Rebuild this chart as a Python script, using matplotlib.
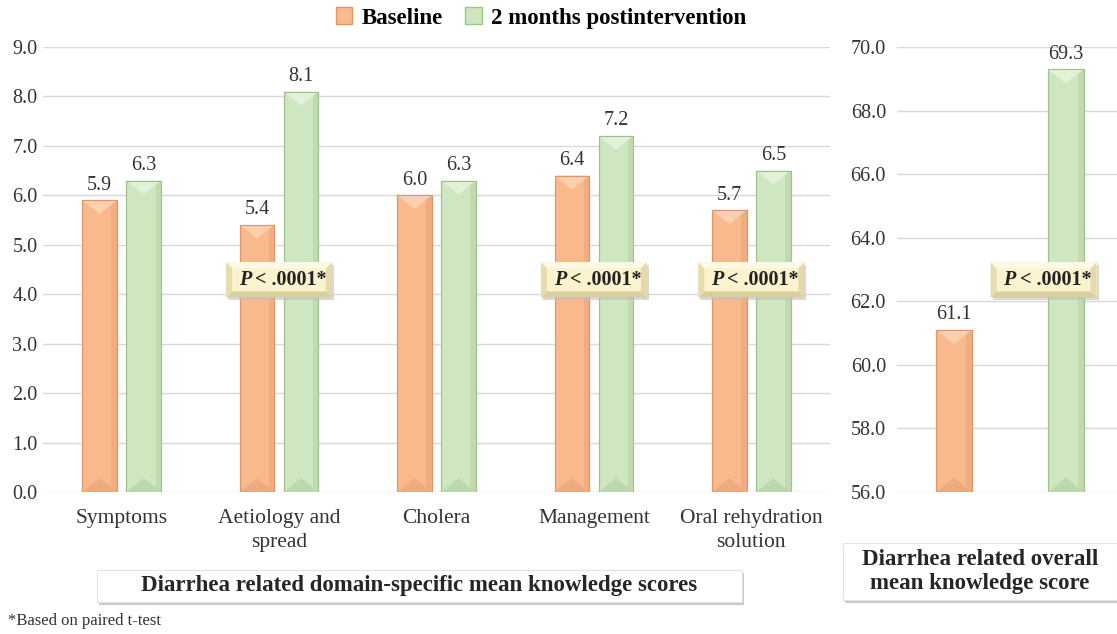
import numpy as np
import matplotlib
matplotlib.use("Agg")
import matplotlib.pyplot as plt
from matplotlib.patches import Polygon, Rectangle, Patch
from matplotlib.transforms import IdentityTransform

plt.rcParams["font.family"] = ["Liberation Serif", "DejaVu Serif"]

# dominios (panel izquierdo)
dominios = ["Symptoms", "Aetiology and\nspread", "Cholera", "Management",
            "Oral rehydration\nsolution"]
basal = [5.9, 5.4, 6.0, 6.4, 5.7]
post = [6.3, 8.1, 6.3, 7.2, 6.5]
sig_dom = [False, True, False, True, True]   # P < .0001 en pareado

# puntaje global (panel derecho)
basal_tot = 61.1
post_tot = 69.3

series = ["Baseline", "2 months postintervention"]
ticks_izq = np.arange(0, 9.01, 1.0)
ticks_der = np.arange(56, 70.01, 2.0)

NAR = dict(face="#F9B98C", edge="#DD966A", top="#FCCFAE", bot="#F0AA7E", side="#F1AD82")
VER = dict(face="#CFE7C1", edge="#9FC28D", top="#E2F1D8", bot="#BCD9AB", side="#C0DBB0")

W, H = 1117, 634
fig = plt.figure(figsize=(W / 100, H / 100), dpi=100)
fig.patch.set_facecolor("white")

ax1 = fig.add_axes([43 / W, (H - 492) / H, 787 / W, 445 / H])
ax2 = fig.add_axes([897 / W, (H - 492) / H, 226 / W, 445 / H])

for ax in (ax1, ax2):
    for s in ax.spines.values():
        s.set_visible(False)
    ax.tick_params(length=0, labelsize=14.5, colors="#333333")
    ax.grid(axis="y", color="#D9D9D9", lw=1)
    ax.set_axisbelow(True)

x = np.arange(len(dominios))
bw = 0.22
b1 = ax1.bar(x - 0.14, basal, bw, color=NAR["face"], edgecolor=NAR["edge"], lw=0.8)
b2 = ax1.bar(x + 0.14, post, bw, color=VER["face"], edgecolor=VER["edge"], lw=0.8)
ax1.set_xlim(-0.5, 4.5)
ax1.set_ylim(0, 9)
ax1.set_yticks(ticks_izq)
ax1.set_yticklabels([f"{t:.1f}" for t in ticks_izq])
ax1.set_xticks(x)
ax1.set_xticklabels(dominios, fontsize=15.5, linespacing=1.35)
ax1.tick_params(axis="x", pad=12)
ax1.tick_params(axis="y", pad=4)

bw2 = 0.32
b3 = ax2.bar([0], [basal_tot - 56], bw2, bottom=56, color=NAR["face"], edgecolor=NAR["edge"], lw=0.8)
b4 = ax2.bar([1], [post_tot - 56], bw2, bottom=56, color=VER["face"], edgecolor=VER["edge"], lw=0.8)
ax2.set_xlim(-0.51, 1.51)
ax2.set_ylim(56, 70)
ax2.set_yticks(ticks_der)
ax2.set_yticklabels([f"{t:.1f}" for t in ticks_der])
ax2.set_xticks([])
ax2.tick_params(axis="y", pad=8)

# etiquetas de valor
for ax, bars, vals in [(ax1, b1, basal), (ax1, b2, post),
                       (ax2, b3, [basal_tot]), (ax2, b4, [post_tot])]:
    for r, v in zip(bars, vals):
        ax.annotate(f"{v:.1f}", (r.get_x() + r.get_width() / 2, r.get_y() + r.get_height()),
                    xytext=(0, 4), textcoords="offset points", ha="center", va="bottom",
                    fontsize=14.5, color="#333333")

fig.canvas.draw()


def bisel(ax, bars, c):
    # sombreado tipo relieve sobre cada barra, en pixeles
    for r in bars:
        (x0, y0), (x1, y1) = ax.transData.transform(
            [(r.get_x(), r.get_y()), (r.get_x() + r.get_width(), r.get_y() + r.get_height())])
        w = x1 - x0
        d = min(0.4 * w, (y1 - y0) / 2)
        xc = (x0 + x1) / 2
        s = 0.16 * w
        polys = [
            ([(x1 - s, y0), (x1, y0), (x1, y1), (x1 - s, y1)], c["side"]),
            ([(x0, y1), (x1, y1), (xc, y1 - d)], c["top"]),
            ([(x0, y0), (x1, y0), (xc, y0 + d)], c["bot"]),
        ]
        for pts, col in polys:
            ax.add_patch(Polygon(pts, closed=True, fc=col, ec="none",
                                 transform=IdentityTransform(), zorder=2.5))
        ax.add_patch(Rectangle((x0, y0), w, y1 - y0, fc="none", ec=c["edge"], lw=0.8,
                               transform=IdentityTransform(), zorder=2.6))


bisel(ax1, b1, NAR)
bisel(ax1, b2, VER)
bisel(ax2, b3, NAR)
bisel(ax2, b4, VER)


def caja_p(ax, xd, yd, bw_px=106, bh_px=35):
    cx, cy = ax.transData.transform((xd, yd))
    x0, x1 = cx - bw_px / 2, cx + bw_px / 2
    y0, y1 = cy - bh_px / 2, cy + bh_px / 2
    e = 6
    T = IdentityTransform()
    # sombra
    ax.add_patch(Rectangle((x0 + 2, y0 - 3), bw_px, bh_px, fc="#BFBFBF", ec="none",
                           alpha=0.6, transform=T, zorder=4))
    ax.add_patch(Rectangle((x0, y0), bw_px, bh_px, fc="#FBF3CE", ec="none", transform=T, zorder=4.1))
    borde = [
        ([(x0, y1), (x1, y1), (x1 - e, y1 - e), (x0 + e, y1 - e)], "#FDF9E6"),
        ([(x0, y0), (x1, y0), (x1 - e, y0 + e), (x0 + e, y0 + e)], "#D9CE9E"),
        ([(x0, y0), (x0, y1), (x0 + e, y1 - e), (x0 + e, y0 + e)], "#E6DCAF"),
        ([(x1, y0), (x1, y1), (x1 - e, y1 - e), (x1 - e, y0 + e)], "#E3D9AA"),
    ]
    for pts, col in borde:
        ax.add_patch(Polygon(pts, closed=True, fc=col, ec="none", transform=T, zorder=4.2))
    ax.annotate("P", (xd, yd), xytext=(-28, 0), textcoords="offset pixels", ha="right",
                va="center", fontsize=14.5, fontweight="bold", style="italic",
                color="#222222", zorder=5)
    ax.annotate(" < .0001*", (xd, yd), xytext=(-29, 0), textcoords="offset pixels", ha="left",
                va="center", fontsize=14.5, fontweight="bold", color="#222222", zorder=5)


for i, s in enumerate(sig_dom):
    if s:
        caja_p(ax1, x[i], 4.29)
caja_p(ax2, 0.80, 62.67)


def caja_titulo(x0, ytop, w, h, texto):
    T = IdentityTransform()
    y0 = H - ytop - h
    fig.patches.append(Rectangle((x0 + 2, y0 - 3), w, h, fc="#C8C8C8", ec="none",
                                 transform=T, figure=fig, zorder=1))
    fig.patches.append(Rectangle((x0, y0), w, h, fc="white", ec="#E3E3E3", lw=0.8,
                                 transform=T, figure=fig, zorder=2))
    fig.text((x0 + w / 2) / W, (y0 + h / 2) / H, texto, ha="center", va="center",
             fontsize=16.5, fontweight="bold", color="#262626", linespacing=1.2, zorder=3)


caja_titulo(97, 570, 645, 32, "Diarrhea related domain-specific mean knowledge scores")
caja_titulo(843, 543, 274, 57, "Diarrhea related overall\nmean knowledge score")

fig.text(8 / W, (H - 621) / H, "*Based on paired t-test", ha="left", va="center",
         fontsize=12, color="#333333")

manijas = [Patch(fc=NAR["face"], ec=NAR["edge"]), Patch(fc=VER["face"], ec=VER["edge"])]
fig.legend(manijas, series, loc="center", bbox_to_anchor=(541 / W, (H - 18) / H), ncol=2,
           frameon=False, prop=dict(weight="bold", size=16.5), handlelength=0.7,
           handleheight=0.7, handletextpad=0.4, columnspacing=1.0)

fig.savefig("out.png", dpi=100, facecolor="white")
